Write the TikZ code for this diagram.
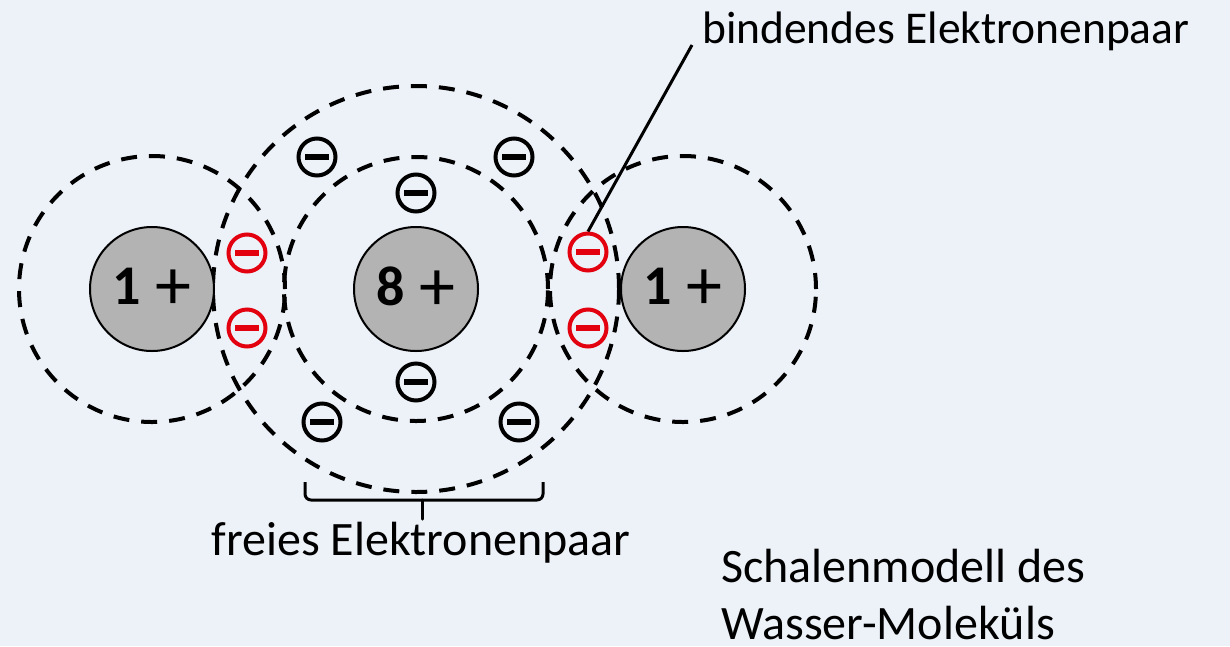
\documentclass[tikz,border=0pt]{standalone}
\usepackage{fontspec}
\setmainfont{Carlito}
\definecolor{bg}{HTML}{EDF2F9}
\definecolor{nucleusgrey}{HTML}{B3B3B3}
\definecolor{bondred}{HTML}{E3000F}
% charge label of a nucleus: bold digit, wide plus sign
\newcommand{\charge}[1]{\textbf{#1}\hspace{15pt}\raisebox{-5pt}{\fontsize{72}{72}\selectfont +}}

\begin{document}
\begin{tikzpicture}[x=1pt,y=-1pt,
  shell/.style={circle, draw, dash pattern=on 16pt off 12pt, line width=4pt,
                minimum size=#1, inner sep=0pt},
  nucleus/.style={circle, draw, fill=nucleusgrey, line width=2pt,
                  minimum size=124pt, inner sep=0pt},
  charge label/.style={font=\fontsize{56}{60}\selectfont, inner sep=0pt},
  electron/.style={circle, draw, fill=bg, line width=4pt, minimum size=37pt,
                   inner sep=0pt},
  bond/.style={electron, draw=bondred, text=bondred},
  label/.style={font=\fontsize{48}{56}\selectfont, inner sep=0pt}
]
\path[fill=bg, use as bounding box] (0,0) rectangle (1230,646);

% electron shells
\node[shell=266pt] (shellHl) at (152,289) {};
\node[shell=264pt] (shellOin) at (416,289) {};
\node[shell=406pt] (shellOout) at (416,289) {};
\node[shell=266pt] (shellHr) at (683,289) {};

% nuclei
\node[nucleus] (Hl) at (152,289) {};
\node[nucleus] (O) at (416,289) {};
\node[nucleus] (Hr) at (683,289) {};
\node[charge label] (qHl) at (Hl.center) {\charge{1}};
\node[charge label] (qO) at (O.center) {\charge{8}};
\node[charge label] (qHr) at (Hr.center) {\charge{1}};

% binding electron pairs
\node[bond] (bl1) at (247,253) {\rule{24pt}{6pt}};
\node[bond] (bl2) at (247,328) {\rule{24pt}{6pt}};
\node[bond] (br1) at (588,252) {\rule{24pt}{6pt}};
\node[bond] (br2) at (588,328) {\rule{24pt}{6pt}};

% remaining oxygen electrons
\node[electron] (e1) at (317,157) {\rule{24pt}{6pt}};
\node[electron] (e2) at (514,157) {\rule{24pt}{6pt}};
\node[electron] (e3) at (416,193) {\rule{24pt}{6pt}};
\node[electron] (e4) at (416,382) {\rule{24pt}{6pt}};
\node[electron] (e5) at (322,422) {\rule{24pt}{6pt}};
\node[electron] (e6) at (519,422) {\rule{24pt}{6pt}};

% labels
\node[label, font=\fontsize{45.5}{54}\selectfont, anchor=base west] (bindend) at (702,43) {bindendes Elektronenpaar};
\node[label, anchor=base] (frei) at (421,555) {freies Elektronenpaar};
\node[label, anchor=base west] (title1) at (721,582) {Schalenmodell des};
\node[label, anchor=base west] (title2) at (721,639) {Wasser-Moleküls};

% leader to the binding pair
\coordinate (leader) at (692,45);
\draw[line width=3pt] (leader) -- (br1.north);

% brace under the free pair
\coordinate (braceL) at (305,482);
\coordinate (braceR) at (543,482);
\coordinate (braceM) at (422,500);
\draw[line width=3pt, rounded corners=6pt]
  (braceL) -- (braceL |- braceM) -- (braceM) -- (braceR |- braceM) -- (braceR);
\draw[line width=3pt, line cap=round] (braceM) -- ++(0,19);
\end{tikzpicture}
\end{document}
